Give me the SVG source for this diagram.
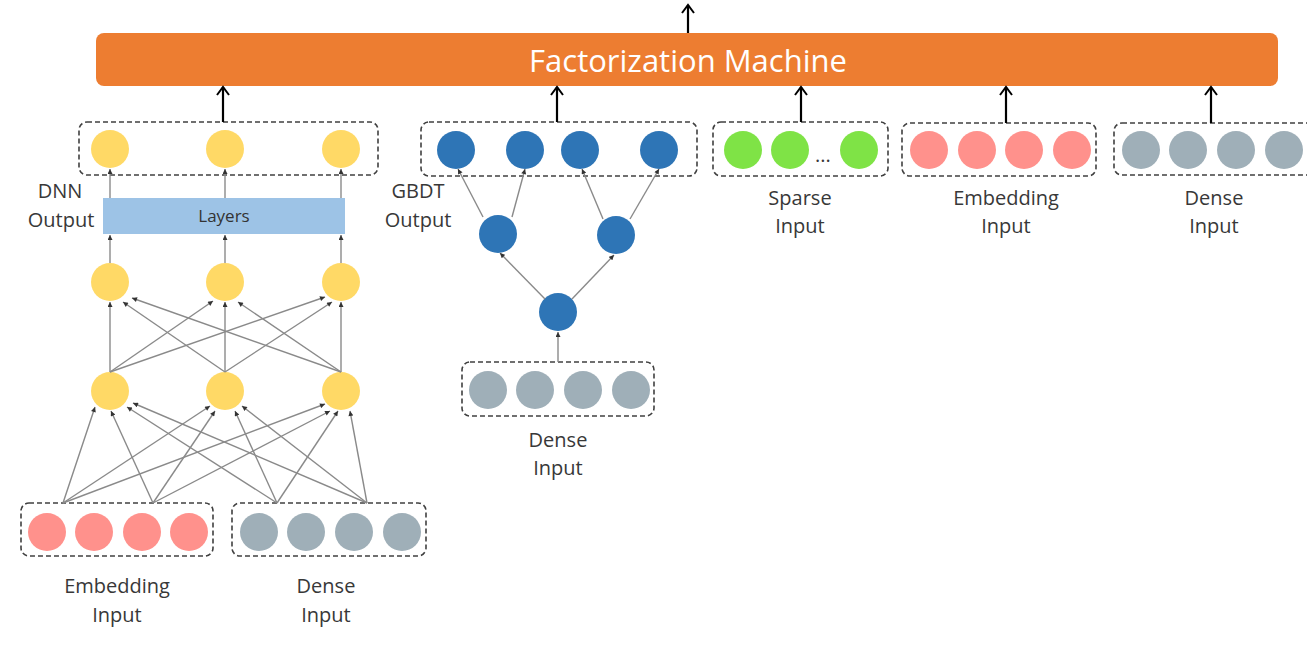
<svg xmlns="http://www.w3.org/2000/svg" width="1307" height="649" viewBox="0 0 1307 649">
<defs>
<style>
.lbl{font-family:"Open Sans","Liberation Sans",sans-serif;font-size:20px;fill:#383838;text-anchor:middle}
.box{fill:none;stroke:#404040;stroke-width:1.6;stroke-dasharray:5 3}
.thin{stroke:#8a8a8a;stroke-width:1.4;fill:none;marker-end:url(#sa)}
.thick{stroke:#000;stroke-width:2.2;fill:none;marker-end:url(#ta)}
.y{fill:#FFD966}
.b{fill:#2E75B6}
.g{fill:#7FE346}
.p{fill:#FF918C}
.s{fill:#9FAFB8}
</style>
<marker id="sa" viewBox="0 0 6 6" refX="6" refY="3" markerWidth="6" markerHeight="5" orient="auto" markerUnits="userSpaceOnUse"><path d="M0,0 L6,3 L0,6 z" fill="#333"/></marker>
<marker id="ta" viewBox="-1 -7 11 14" refX="8" refY="0" markerWidth="11" markerHeight="14" orient="auto" markerUnits="userSpaceOnUse"><path d="M0,-6 L8,0 L0,6" fill="none" stroke="#000" stroke-width="2"/></marker>
</defs>
<rect width="1307" height="649" fill="#fff"/>

<g id="fm">
<rect x="96" y="33" width="1182" height="53" rx="8" fill="#ED7D31"/>
<text x="688" y="72" font-family="'Open Sans','Liberation Sans',sans-serif" font-size="31" fill="#fff" text-anchor="middle">Factorization Machine</text>
</g>

<g id="dnn-output">
<rect class="box" x="79" y="122" width="299" height="53" rx="8"/>
<circle class="y" cx="110" cy="149" r="19"/>
<circle class="y" cx="225" cy="149" r="19"/>
<circle class="y" cx="341" cy="149" r="19"/>
<text class="lbl" x="60" y="198">DNN</text>
<text class="lbl" x="61" y="227">Output</text>
</g>

<g id="layers">
<rect x="103" y="198" width="242" height="36" fill="#9DC3E6"/>
<text x="224" y="222" font-family="'Open Sans','Liberation Sans',sans-serif" font-size="17" fill="#333" text-anchor="middle">Layers</text>
</g>

<g id="dnn-hidden2">
<circle class="y" cx="110" cy="282" r="19"/>
<circle class="y" cx="225" cy="282" r="19"/>
<circle class="y" cx="341" cy="282" r="19"/>
</g>
<g id="dnn-hidden1">
<circle class="y" cx="110" cy="391" r="19"/>
<circle class="y" cx="225" cy="391" r="19"/>
<circle class="y" cx="341" cy="391" r="19"/>
</g>

<g id="dnn-embedding-input">
<rect class="box" x="21" y="503" width="192" height="53" rx="8"/>
<circle class="p" cx="47" cy="532" r="19"/>
<circle class="p" cx="94" cy="532" r="19"/>
<circle class="p" cx="142" cy="532" r="19"/>
<circle class="p" cx="189" cy="532" r="19"/>
<text class="lbl" x="117" y="593">Embedding</text>
<text class="lbl" x="117" y="622">Input</text>
</g>

<g id="dnn-dense-input">
<rect class="box" x="232" y="503" width="194" height="53" rx="8"/>
<circle class="s" cx="259" cy="532" r="19"/>
<circle class="s" cx="306" cy="532" r="19"/>
<circle class="s" cx="354" cy="532" r="19"/>
<circle class="s" cx="402" cy="532" r="19"/>
<text class="lbl" x="326" y="593">Dense</text>
<text class="lbl" x="326" y="622">Input</text>
</g>

<g id="gbdt-output">
<rect class="box" x="421" y="122" width="276" height="54" rx="8"/>
<circle class="b" cx="456" cy="150" r="19"/>
<circle class="b" cx="525" cy="150" r="19"/>
<circle class="b" cx="580" cy="150" r="19"/>
<circle class="b" cx="659" cy="150" r="19"/>
<text class="lbl" x="418" y="198">GBDT</text>
<text class="lbl" x="418" y="227">Output</text>
</g>
<g id="gbdt-tree">
<circle class="b" cx="498" cy="234" r="19"/>
<circle class="b" cx="616" cy="235" r="19"/>
<circle class="b" cx="558" cy="312" r="19"/>
</g>

<g id="gbdt-dense-input">
<rect class="box" x="462" y="362" width="192" height="54" rx="8"/>
<circle class="s" cx="488" cy="390" r="19"/>
<circle class="s" cx="535" cy="390" r="19"/>
<circle class="s" cx="583" cy="390" r="19"/>
<circle class="s" cx="631" cy="390" r="19"/>
<text class="lbl" x="558" y="447">Dense</text>
<text class="lbl" x="558" y="475">Input</text>
</g>

<g id="sparse-input">
<rect class="box" x="713" y="122" width="175" height="54" rx="8"/>
<circle class="g" cx="743" cy="150" r="19"/>
<circle class="g" cx="790" cy="150" r="19"/>
<circle class="g" cx="859" cy="150" r="19"/>
<text class="lbl" x="823" y="162">...</text>
<text class="lbl" x="800" y="205">Sparse</text>
<text class="lbl" x="800" y="233">Input</text>
</g>

<g id="embedding-input">
<rect class="box" x="902" y="123" width="194" height="53" rx="8"/>
<circle class="p" cx="929" cy="150" r="19"/>
<circle class="p" cx="977" cy="150" r="19"/>
<circle class="p" cx="1024" cy="150" r="19"/>
<circle class="p" cx="1072" cy="150" r="19"/>
<text class="lbl" x="1006" y="205">Embedding</text>
<text class="lbl" x="1006" y="233">Input</text>
</g>

<g id="dense-input">
<rect class="box" x="1114" y="123" width="220" height="52" rx="8"/>
<circle class="s" cx="1141" cy="150" r="19"/>
<circle class="s" cx="1188" cy="150" r="19"/>
<circle class="s" cx="1236" cy="150" r="19"/>
<circle class="s" cx="1284" cy="150" r="19"/>
<text class="lbl" x="1214" y="205">Dense</text>
<text class="lbl" x="1214" y="233">Input</text>
</g>

<g id="connectors">
<line class="thick" x1="688" y1="33" x2="688" y2="5"/>
<line class="thick" x1="223" y1="122" x2="223" y2="87"/>
<line class="thick" x1="557" y1="122" x2="557" y2="87"/>
<line class="thick" x1="801" y1="122" x2="801" y2="87"/>
<line class="thick" x1="1006" y1="123" x2="1006" y2="87"/>
<line class="thick" x1="1211" y1="123" x2="1211" y2="87"/>

<line class="thin" x1="110" y1="198" x2="110" y2="169"/>
<line class="thin" x1="225" y1="198" x2="225" y2="169"/>
<line class="thin" x1="341" y1="198" x2="341" y2="169"/>
<line class="thin" x1="110" y1="263" x2="110" y2="235"/>
<line class="thin" x1="225" y1="263" x2="225" y2="235"/>
<line class="thin" x1="341" y1="263" x2="341" y2="235"/>

<line class="thin" x1="110" y1="372" x2="110" y2="302"/>
<line class="thin" x1="110" y1="372" x2="213" y2="301"/>
<line class="thin" x1="110" y1="372" x2="325" y2="297"/>
<line class="thin" x1="225" y1="372" x2="123" y2="302"/>
<line class="thin" x1="225" y1="372" x2="225" y2="302"/>
<line class="thin" x1="225" y1="372" x2="332" y2="302"/>
<line class="thin" x1="341" y1="372" x2="132" y2="298"/>
<line class="thin" x1="341" y1="372" x2="238" y2="302"/>
<line class="thin" x1="341" y1="372" x2="341" y2="302"/>

<line class="thin" x1="63" y1="503" x2="95" y2="407"/>
<line class="thin" x1="63" y1="503" x2="210" y2="406"/>
<line class="thin" x1="63" y1="503" x2="325" y2="404"/>
<line class="thin" x1="153" y1="503" x2="111" y2="411"/>
<line class="thin" x1="153" y1="503" x2="215" y2="411"/>
<line class="thin" x1="153" y1="503" x2="330" y2="411"/>
<line class="thin" x1="277" y1="503" x2="127" y2="407"/>
<line class="thin" x1="277" y1="503" x2="235" y2="411"/>
<line class="thin" x1="277" y1="503" x2="338" y2="411"/>
<line class="thin" x1="367" y1="503" x2="133" y2="403"/>
<line class="thin" x1="367" y1="503" x2="242" y2="406"/>
<line class="thin" x1="367" y1="503" x2="350" y2="411"/>

<line class="thin" x1="558" y1="362" x2="558" y2="332"/>
<line class="thin" x1="545" y1="299" x2="500" y2="253"/>
<line class="thin" x1="572" y1="299" x2="614" y2="255"/>
<line class="thin" x1="483" y1="217" x2="458" y2="169"/>
<line class="thin" x1="512" y1="217" x2="525" y2="169"/>
<line class="thin" x1="603" y1="219" x2="582" y2="169"/>
<line class="thin" x1="630" y1="219" x2="659" y2="169"/>
</g>
</svg>
